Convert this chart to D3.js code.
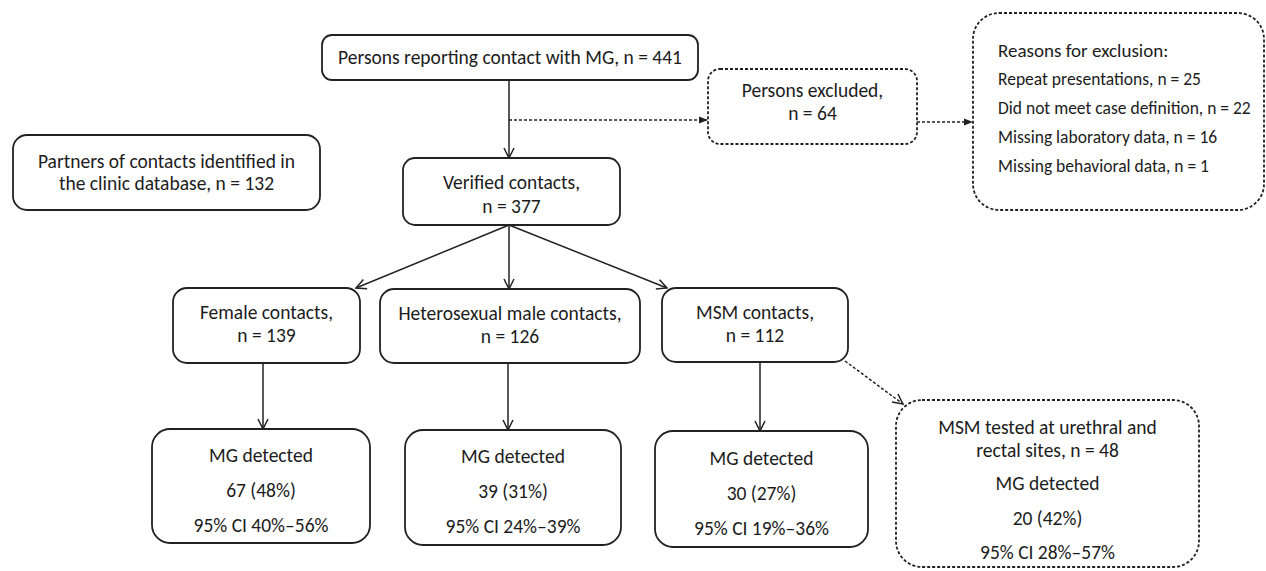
<!DOCTYPE html>
<html>
<head>
<meta charset="utf-8">
<script src="https://cdn.jsdelivr.net/npm/d3@7"></script>
<style>
  html, body { margin: 0; padding: 0; background: #fff; }
  svg { display: block; }
  text { font-family: Carlito, Lato, "Open Sans", sans-serif; fill: #1c1c1c; }
</style>
</head>
<body>
<svg id="chart"></svg>
<script>
// ---- data ----
const totalReported = 441
const totalExcluded = 64
const totalVerified = 377
const partnersInDb = 132

const exclusionReasons = ["Repeat presentations", "Did not meet case definition", "Missing laboratory data", "Missing behavioral data"]
const exclusionCounts = [25, 22, 16, 1]

const groups = ["Female contacts", "Heterosexual male contacts", "MSM contacts"]
const groupCounts = [139, 126, 112]
const detectedCounts = [67, 39, 30]
const detectedPct = [48, 31, 27]
const ciLow = [40, 24, 19]
const ciHigh = [56, 39, 36]

const msmBothSites = 48
const msmBothDetected = 20
const msmBothPct = 42
const msmBothCi = [28, 57]

// ---- layout (pixel geometry of each box) ----
const W = 1266, H = 571
const layout = {
  reported:  {x: 322, y: 35,  w: 376, h: 45,  r: 10},
  excluded:  {x: 708, y: 69,  w: 209, h: 75,  r: 12, dashed: true},
  reasons:   {x: 973, y: 13,  w: 291, h: 197, r: 26, dashed: true, left: 25},
  partners:  {x: 13,  y: 135, w: 307, h: 75,  r: 14},
  verified:  {x: 403, y: 158, w: 217, h: 67,  r: 12},
  g0:        {x: 173, y: 288, w: 187, h: 75,  r: 14},
  g1:        {x: 380, y: 289, w: 260, h: 74,  r: 14},
  g2:        {x: 662, y: 288, w: 186, h: 74,  r: 14},
  d0:        {x: 152, y: 429, w: 218, h: 114, r: 18},
  d1:        {x: 405, y: 430, w: 216, h: 115, r: 18},
  d2:        {x: 655, y: 431, w: 213, h: 116, r: 18},
  msmBoth:   {x: 896, y: 400, w: 303, h: 167, r: 26, dashed: true}
}
const spineX = 509   // main vertical connector
const downX = [263, 508, 760]   // group -> detected connectors

const ciText = (a, b) => `95% CI ${a}%\u2013${b}%`

const nodes = [
  {id: "reported", lines: [`Persons reporting contact with MG, n = ${totalReported}`], dy: [0]},
  {id: "excluded", lines: ["Persons excluded,", `n = ${totalExcluded}`], dy: [-16, 7]},
  {id: "reasons", lines: ["Reasons for exclusion:"].concat(exclusionReasons.map((d, i) => `${d}, n = ${exclusionCounts[i]}`)),
    dy: [-61, -33, -4, 25, 54]},
  {id: "partners", lines: ["Partners of contacts identified in", `the clinic database, n = ${partnersInDb}`], dy: [-11, 11]},
  {id: "verified", lines: ["Verified contacts,", `n = ${totalVerified}`], dy: [-9, 15]}
]
groups.forEach((g, i) => {
  nodes.push({id: "g" + i, lines: [`${g},`, `n = ${groupCounts[i]}`], dy: [-13, 10]})
  nodes.push({id: "d" + i, lines: ["MG detected", `${detectedCounts[i]} (${detectedPct[i]}%)`, ciText(ciLow[i], ciHigh[i])], dy: [-31, 4, 39]})
})
nodes.push({id: "msmBoth", lines: ["MSM tested at urethral and", `rectal sites, n = ${msmBothSites}`, "MG detected",
  `${msmBothDetected} (${msmBothPct}%)`, ciText(msmBothCi[0], msmBothCi[1])], dy: [-56, -33, 0, 35, 69]})

const L = layout
const bottom = b => L[b].y + L[b].h
const right = b => L[b].x + L[b].w
const links = [
  {p: [[spineX, bottom("reported")], [spineX, L.verified.y]], head: "open"},
  {p: [[spineX, 120], [L.excluded.x, 120]], dashed: true, head: "solid"},
  {p: [[right("excluded"), 122], [L.reasons.x, 122]], dashed: true, head: "solid"},
  {p: [[spineX, bottom("verified")], [right("g0") - 4, L.g0.y]], head: "open"},
  {p: [[spineX, bottom("verified")], [spineX, L.g1.y]], head: "open"},
  {p: [[spineX, bottom("verified")], [L.g2.x + 5, L.g2.y]], head: "open"},
  {p: [[downX[0], bottom("g0")], [downX[0], L.d0.y]], head: "open"},
  {p: [[downX[1], bottom("g1")], [downX[1], L.d1.y]], head: "open"},
  {p: [[downX[2], bottom("g2")], [downX[2], L.d2.y]], head: "open"},
  {p: [[right("g2") - 3, bottom("g2") - 1], [L.msmBoth.x + 7, L.msmBoth.y + 4]], dashed: true, head: "open"}
]

const svg = d3.select("#chart").attr("width", W).attr("height", H)

const defs = svg.append("defs")
defs.append("marker")
  .attr("id", "open").attr("viewBox", "0 0 12 12").attr("refX", 11).attr("refY", 6)
  .attr("markerWidth", 12).attr("markerHeight", 12).attr("markerUnits", "userSpaceOnUse").attr("orient", "auto")
  .append("path").attr("d", "M1,1 L11,6 L1,11").attr("fill", "none").attr("stroke", "#222").attr("stroke-width", 1.5)
defs.append("marker")
  .attr("id", "solid").attr("viewBox", "0 0 10 10").attr("refX", 10).attr("refY", 5)
  .attr("markerWidth", 9).attr("markerHeight", 9).attr("markerUnits", "userSpaceOnUse").attr("orient", "auto")
  .append("path").attr("d", "M0,1 L10,5 L0,9 Z").attr("fill", "#222")

const line = d3.line()
svg.append("g").selectAll("path")
  .data(links)
  .join("path")
    .attr("d", d => line(d.p))
    .attr("fill", "none")
    .attr("stroke", "#222")
    .attr("stroke-width", 1.5)
    .attr("stroke-dasharray", d => d.dashed ? "3,2" : null)
    .attr("marker-end", d => `url(#${d.head})`)

const boxes = svg.append("g").selectAll("g")
  .data(nodes)
  .join("g")
    .attr("transform", d => `translate(${L[d.id].x},${L[d.id].y})`)

boxes.append("rect")
  .attr("width", d => L[d.id].w)
  .attr("height", d => L[d.id].h)
  .attr("rx", d => L[d.id].r)
  .attr("fill", "#fff")
  .attr("stroke", "#222")
  .attr("stroke-width", 1.8)
  .attr("stroke-dasharray", d => L[d.id].dashed ? "3,2" : null)

boxes.each(function(d) {
  const b = L[d.id]
  const g = d3.select(this)
  d.lines.forEach((t, i) => {
    g.append("text")
      .attr("x", b.left ? b.left : b.w / 2)
      .attr("y", b.h / 2 + d.dy[i])
      .attr("dy", "0.35em")
      .attr("text-anchor", b.left ? "start" : "middle")
      .attr("font-size", d.id === "reasons" ? (i === 0 ? 19 : 17.5) : 19.5)
      .text(t)
  })
})
</script>
</body>
</html>
